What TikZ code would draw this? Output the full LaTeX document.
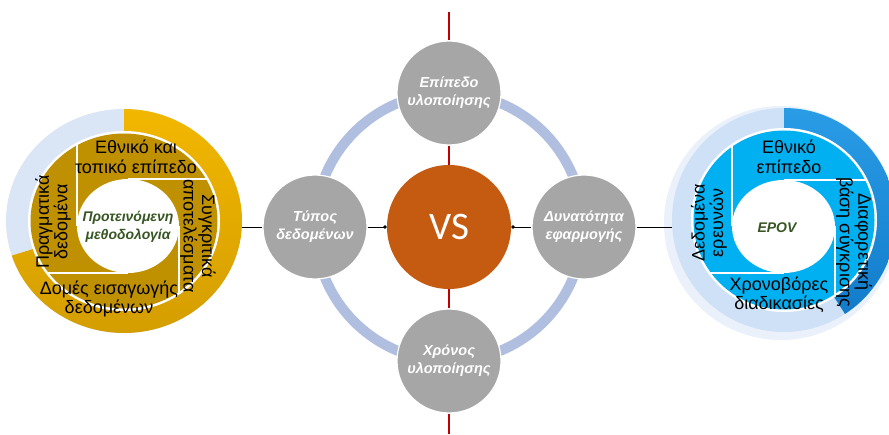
\documentclass[tikz,border=0pt]{standalone}
\usepackage{fontspec}
\setmainfont{Liberation Sans}
\newfontfamily\vsfont{Carlito}
\usetikzlibrary{arrows.meta,calc}
\definecolor{goldout}{HTML}{F2B700}
\definecolor{golddark}{HTML}{D49E00}
\definecolor{goldin}{HTML}{BF9000}
\definecolor{lightring}{HTML}{DAE6F6}
\definecolor{lightringb}{HTML}{CFE1F6}
\definecolor{halo}{HTML}{EAF1FB}
\definecolor{blueout}{HTML}{2A9CE6}
\definecolor{bluedark}{HTML}{127CCB}
\definecolor{bluein}{HTML}{00B0F0}
\definecolor{ringblue}{HTML}{B0BEE0}
\definecolor{greyc}{HTML}{A6A6A6}
\definecolor{vsorange}{HTML}{C55A11}
\definecolor{redline}{HTML}{C00000}
\definecolor{dgreen}{HTML}{375623}
\begin{document}
\begin{tikzpicture}[x=1pt,y=1pt,
  greycircle/.style={circle, fill=greyc, draw=white, line width=1.2pt, minimum size=104pt, inner sep=0pt, text=white, font=\bfseries\itshape\fontsize{14.5}{18}\selectfont, align=center},
  blocktext/.style={font=\fontsize{18}{19.5}\selectfont, align=center, inner sep=0pt},
  rotblocktext/.style={font=\fontsize{18}{18.5}\selectfont, align=center, inner sep=0pt},
  centertext/.style={font=\bfseries\itshape\fontsize{14}{18.5}\selectfont, text=dgreen, align=center, inner sep=0pt},
  sepline/.style={white, line width=2.5pt},
  conn/.style={black, line width=0.8pt},
  redconn/.style={redline, line width=1.4pt},
  ]
\clip (0,0) rectangle (889,434);
\fill[white] (0,0) rectangle (889,434);

% ---------- left donut ----------
\fill[lightring] (124,213) ellipse[x radius=118, y radius=112];
\shade[top color=goldout, bottom color=golddark] (124,213) -- (124,325) arc[start angle=90, end angle=-162, x radius=118, y radius=112] -- cycle;
\fill[white] (124,213) ellipse[x radius=96, y radius=90];
\fill[goldin] (124,213) ellipse[x radius=93.5, y radius=87.5];
\fill[white] (128,208) ellipse[x radius=51, y radius=47];
\begin{scope}
\clip (124,213) ellipse[x radius=94, y radius=88];
\draw[sepline] (77,208) -- (77,330);
\draw[sepline] (128,255) -- (230,255);
\draw[sepline] (179,208) -- (179,100);
\draw[sepline] (128,161) -- (20,161);
\end{scope}
\node[blocktext] (l1) at (136,277) {Εθνικό και\\τοπικό επίπεδο};
\node[rotblocktext, rotate=-90] (l2) at (198,198) {Συγκριτικά\\αποτελέσματα};
\node[blocktext] (l3) at (109,135) {Δομές εισαγωγής\\δεδομένων};
\node[rotblocktext, rotate=90] (l4) at (53,212) {Πραγματικά\\δεδομένα};
\node[centertext] (lc) at (128,207) {Προτεινόμενη\\μεθοδολογία};
\coordinate (Lr) at (242,207);

% ---------- right donut ----------
\fill[halo] (781,211) circle[radius=117];
\fill[lightringb] (784,214) ellipse[x radius=112, y radius=112];
\shade[top color=blueout, bottom color=bluedark] (784,214) -- (784,326) arc[start angle=90, end angle=-57, radius=112] -- cycle;
\fill[white] (784,214) ellipse[x radius=93, y radius=92];
\fill[bluein] (784,214) ellipse[x radius=90.5, y radius=89.5];
\fill[white] (783.5,207.5) ellipse[x radius=51.5, y radius=46.5];
\begin{scope}
\clip (784,214) ellipse[x radius=91, y radius=90];
\draw[sepline] (732,207.5) -- (732,330);
\draw[sepline] (783.5,254) -- (890,254);
\draw[sepline] (835,207.5) -- (835,100);
\draw[sepline] (783.5,161) -- (680,161);
\end{scope}
\node[blocktext] (r1) at (789,277) {Εθνικό\\επίπεδο};
\node[rotblocktext, rotate=-90] (r2) at (854,192) {Διαφορετική\\βάση σύγκρισης};
\node[blocktext] (r3) at (779,139) {Χρονοβόρες\\διαδικασίες};
\node[rotblocktext, rotate=90] (r4) at (709,211) {Δεδομένα\\ερευνών};
\node[centertext] (rc) at (777,206) {EPOV};
\coordinate (Rl) at (672,207);

% ---------- centre ----------
\draw[ringblue, line width=10pt] (449,207) circle[radius=134];
\node[greycircle] (top) at (449,341) {Επίπεδο\\υλοποίησης};
\node[greycircle] (bot) at (449,73) {Χρόνος\\υλοποίησης};
\node[greycircle] (tipo) at (315,207) {Τύπος\\δεδομένων};
\node[greycircle] (dyn) at (584,207) {Δυνατότητα\\εφαρμογής};
\node[circle, fill=vsorange, minimum size=124pt, inner sep=0pt, text=white, font=\vsfont\fontsize{39}{41}\selectfont] (vs) at (449,207) {VS};
\coordinate (Rtop) at (449,422);
\coordinate (Rbot) at (449,0);

\draw[redconn] (Rtop) -- (top.north);
\draw[redconn] (top.south) -- (vs.north);
\draw[redconn] (vs.south) -- (bot.north);
\draw[redconn] (bot.south) -- (Rbot);

\draw[conn] (Lr) -- (tipo.west);
\draw[conn, -{Circle[length=3.5pt]}] (tipo.east) -- (vs.west);
\draw[conn, {Circle[length=3.5pt]}-] (vs.east) -- (dyn.west);
\draw[conn] (dyn.east) -- (Rl);
\end{tikzpicture}
\end{document}
